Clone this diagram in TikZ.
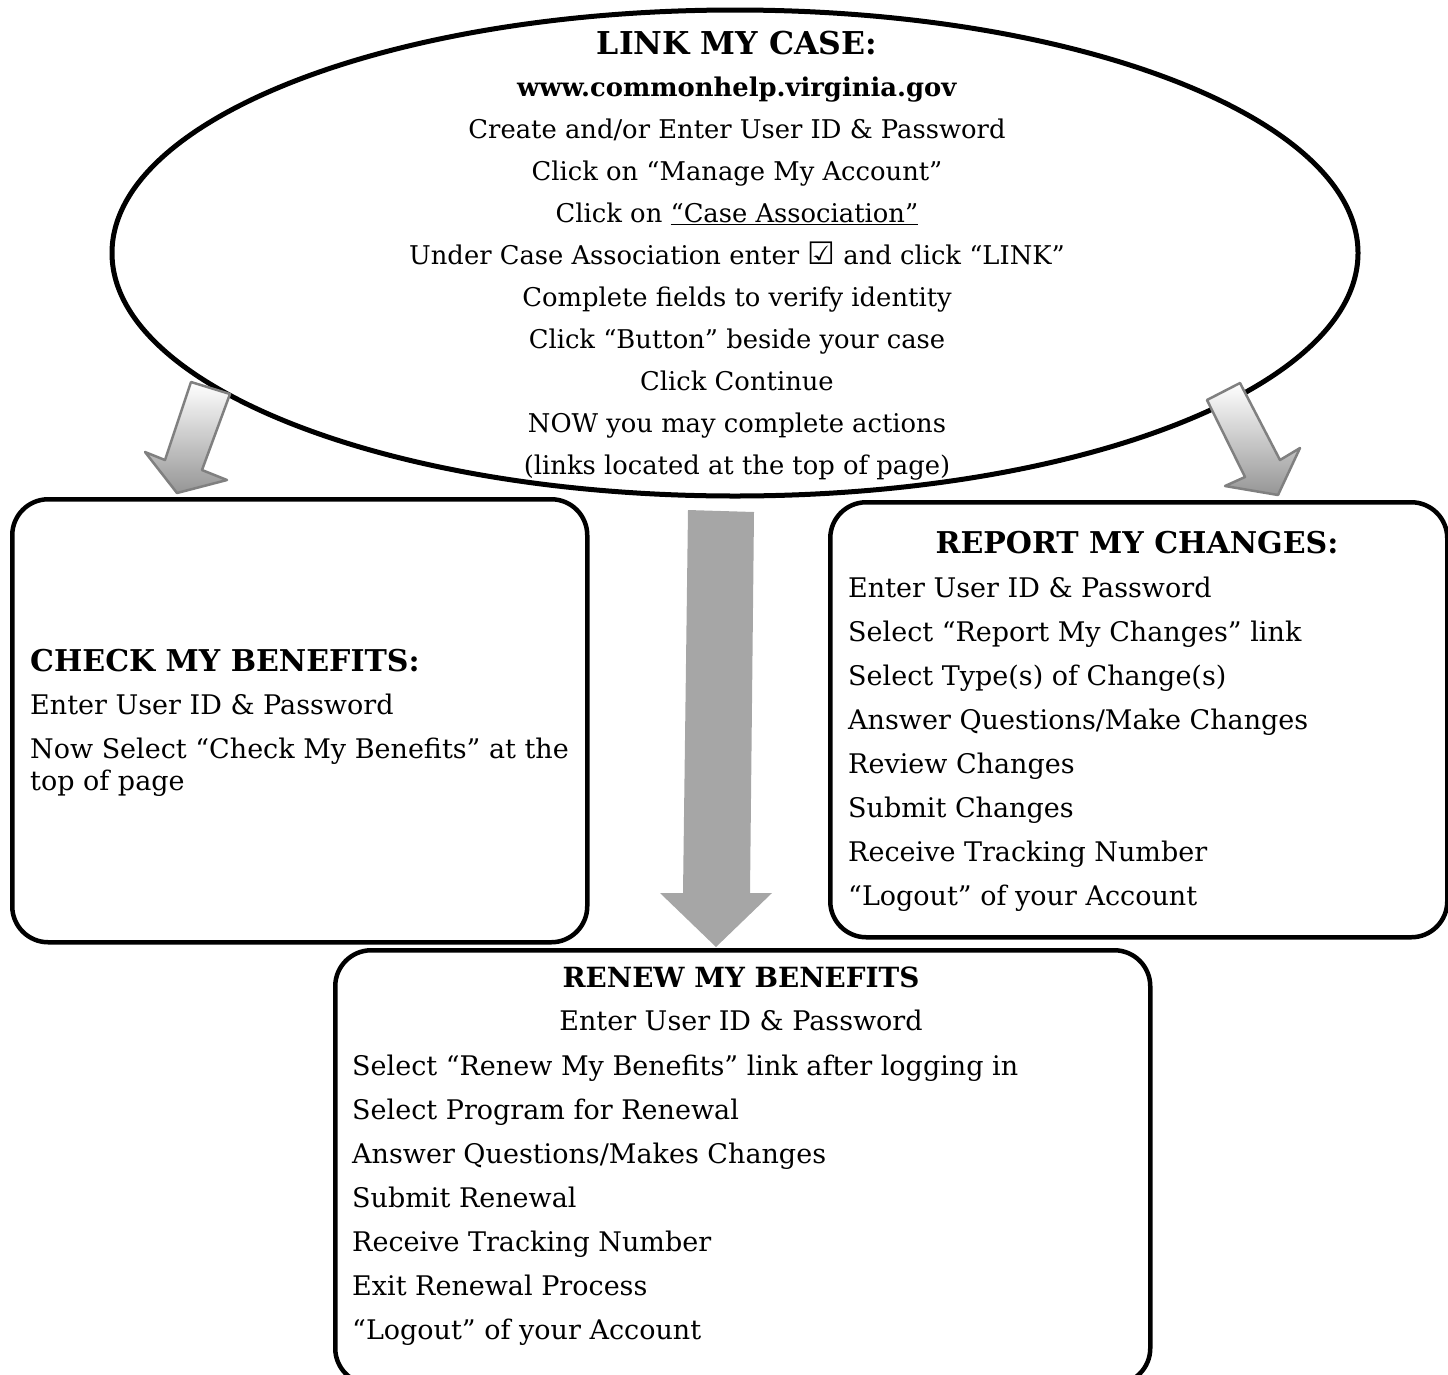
\documentclass[tikz,border=0pt]{standalone}
\usepackage{fontspec}
\setmainfont{DejaVu Serif}
\newfontfamily\symfnt{DejaVu Sans}
\usetikzlibrary{shapes.geometric}
\definecolor{arrgray}{HTML}{A6A6A6}
\definecolor{edgegray}{HTML}{808080}
\begin{document}
\begin{tikzpicture}[x=1pt,y=-1pt,
  box/.style={draw, line width=4.5pt, rounded corners=36pt, inner sep=0pt, anchor=north west},
  body/.style={font=\fontsize{27}{42}\selectfont, inner sep=0pt, anchor=base},
  bodyl/.style={font=\fontsize{27}{44}\selectfont, inner sep=0pt, anchor=base west, align=left},
  head/.style={font=\fontsize{30}{40}\selectfont\bfseries, inner sep=0pt},
  smallarrow/.style={draw=edgegray, line width=2.5pt, line join=round, top color=white, bottom color=arrgray!90!black},
]
\useasboundingbox (0,0) rectangle (1448,1374);

% boxes
\node[box, minimum width=575pt, minimum height=443pt] (check) at (10,497) {};
\node[box, minimum width=617pt, minimum height=435pt] (report) at (828,500) {};
\node[box, minimum width=815pt, minimum height=434pt] (renew) at (333,948) {};

% ellipse
\node[draw, line width=5pt, ellipse, fill=white, minimum width=1246pt, minimum height=486pt, inner sep=0pt] (link) at (735,253) {};

% ellipse text (anchor = baseline of last line)
\node[body, align=center, font=\fontsize{25.8}{42}\selectfont] (linktxt) at (737,474) {{\fontsize{31.5}{42}\selectfont\bfseries LINK MY CASE:}\\
\textbf{www.commonhelp.virginia.gov}\\
Create and/or Enter User ID \& Password\\
Click on “Manage My Account”\\
Click on \underline{“Case Association”}\\
Under Case Association enter {\symfnt\fontsize{31}{42}\selectfont ☑} and click “LINK”\\
Complete fields to verify identity\\
Click “Button” beside your case\\
Click Continue\\
NOW you may complete actions\\
(links located at the top of page)};

% arrows
\coordinate (la1) at (191,382); \coordinate (la2) at (230,394);
\coordinate (la3) at (202,470); \coordinate (la4) at (227,480);
\coordinate (la5) at (177,493); \coordinate (la6) at (145,452);
\coordinate (la7) at (165,460);
\path[smallarrow] (la1) -- (la2) -- (la3) -- (la4) -- (la5) -- (la6) -- (la7) -- cycle;

\coordinate (ra1) at (1207,400); \coordinate (ra2) at (1240,383);
\coordinate (ra3) at (1280,460); \coordinate (ra4) at (1300,448);
\coordinate (ra5) at (1278,495); \coordinate (ra6) at (1225,486);
\coordinate (ra7) at (1245,477);
\path[smallarrow] (ra1) -- (ra2) -- (ra3) -- (ra4) -- (ra5) -- (ra6) -- (ra7) -- cycle;

\coordinate (ca1) at (688,510); \coordinate (ca2) at (754,512);
\coordinate (ca3) at (750,893); \coordinate (ca4) at (772,893);
\coordinate (ca5) at (716,947); \coordinate (ca6) at (660,893);
\coordinate (ca7) at (683,893);
\fill[arrgray] (ca1) -- (ca2) -- (ca3) -- (ca4) -- (ca5) -- (ca6) -- (ca7) -- cycle;

% check box text
\node[head, anchor=base west] (checkhead) at (30,671) {CHECK MY BENEFITS:};
\node[bodyl] (checktxt) at (30,790) {Enter User ID \& Password\\
Now Select “Check My Benefits” at the\\[-12pt]
top of page};

% report box text
\node[head, anchor=base] (reporthead) at (1137,553) {REPORT MY CHANGES:};
\node[bodyl] (reporttxt) at (848,905) {Enter User ID \& Password\\
Select “Report My Changes” link\\
Select Type(s) of Change(s)\\
Answer Questions/Make Changes\\
Review Changes\\
Submit Changes\\
Receive Tracking Number\\
“Logout” of your Account};

% renew box text
\node[body, font=\fontsize{27.8}{42}\selectfont\bfseries] (renewhead) at (741,987) {RENEW MY BENEFITS};
\node[body] (renewsub) at (741,1030) {Enter User ID \& Password};
\node[bodyl] (renewtxt) at (352,1339) {Select “Renew My Benefits” link after logging in\\
Select Program for Renewal\\
Answer Questions/Makes Changes\\
Submit Renewal\\
Receive Tracking Number\\
Exit Renewal Process\\
“Logout” of your Account};
\end{tikzpicture}
\end{document}
